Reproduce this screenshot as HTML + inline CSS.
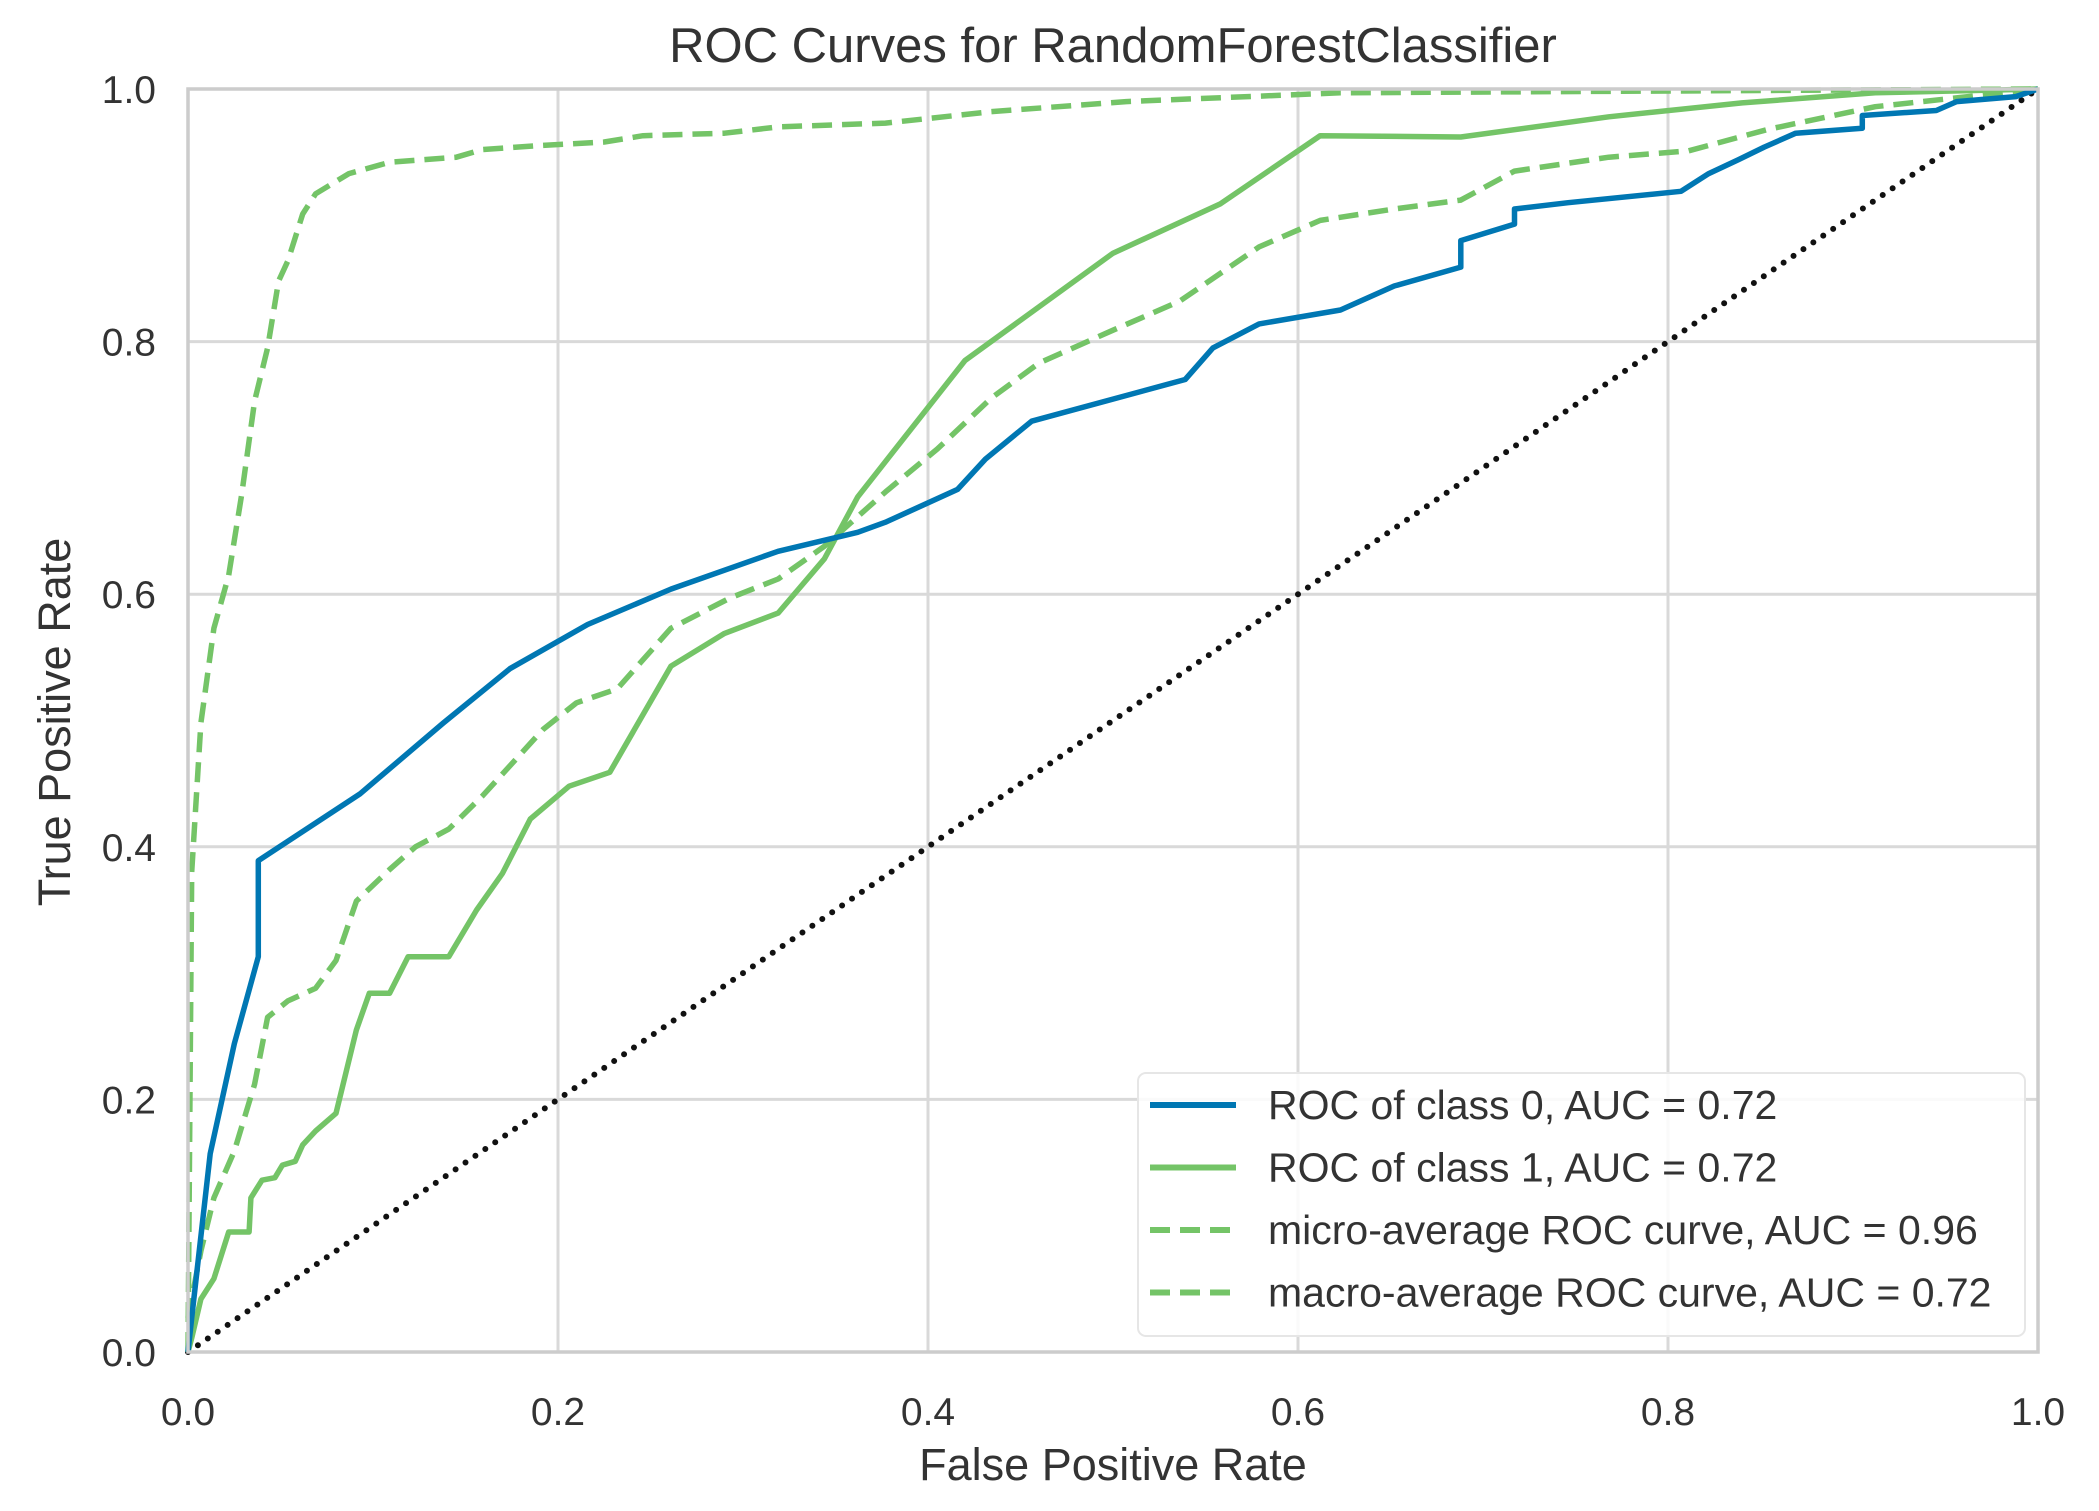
<!DOCTYPE html>
<html><head><meta charset="utf-8"><style>
html,body{margin:0;padding:0;background:#fff;}
svg{display:block;font-family:"Liberation Sans",sans-serif;}
</style></head><body>
<svg id="chart" width="2099" height="1511" viewBox="0 0 2099 1511">
<g id="grid"></g>
<g id="series"></g>
<rect x="188" y="89" width="1850" height="1263" fill="none" stroke="#cccccc" stroke-width="3.5"/>
<g id="ticks"></g>
<text x="1113" y="62" text-anchor="middle" font-size="49" fill="#333">ROC Curves for RandomForestClassifier</text>
<text x="1113" y="1480" text-anchor="middle" font-size="45" fill="#333">False Positive Rate</text>
<text x="0" y="0" transform="translate(70,722) rotate(-90)" text-anchor="middle" font-size="45" fill="#333">True Positive Rate</text>
<g id="legend">
<rect x="1138" y="1073" width="887" height="263" rx="8" fill="#fff" fill-opacity="0.85" stroke="#e6e6e6" stroke-width="2"/>
</g>
</svg>
<script>
const tickValues = [0, 0.2, 0.4, 0.6, 0.8, 1.0];
const tickLabels = ["0.0", "0.2", "0.4", "0.6", "0.8", "1.0"];
const class0X = [0,0.002,0.012,0.025,0.038,0.038,0.093,0.138,0.174,0.216,0.261,0.319,0.362,0.377,0.416,0.431,0.456,0.539,0.554,0.579,0.623,0.652,0.688,0.688,0.717,0.717,0.746,0.807,0.822,0.838,0.852,0.869,0.905,0.905,0.945,0.956,0.988,1];
const class0Y = [0,0.027,0.157,0.244,0.313,0.389,0.442,0.498,0.541,0.576,0.604,0.634,0.649,0.657,0.683,0.707,0.737,0.770,0.795,0.814,0.825,0.844,0.859,0.880,0.893,0.905,0.910,0.919,0.933,0.944,0.954,0.965,0.969,0.979,0.983,0.990,0.994,1];
const class1X = [0,0.002,0.007,0.014,0.022,0.033,0.034,0.040,0.047,0.051,0.058,0.062,0.069,0.080,0.091,0.098,0.109,0.119,0.141,0.156,0.170,0.185,0.206,0.228,0.261,0.290,0.319,0.344,0.362,0.420,0.500,0.558,0.612,0.688,0.768,0.840,0.912,1];
const class1Y = [0,0.011,0.042,0.058,0.095,0.095,0.122,0.136,0.138,0.148,0.151,0.164,0.175,0.189,0.255,0.284,0.284,0.313,0.313,0.350,0.379,0.422,0.448,0.459,0.543,0.569,0.585,0.628,0.677,0.785,0.870,0.909,0.963,0.962,0.978,0.989,0.997,1];
const microX = [0,0.002,0.007,0.014,0.022,0.029,0.036,0.043,0.049,0.054,0.062,0.069,0.087,0.109,0.145,0.159,0.188,0.225,0.246,0.290,0.319,0.377,0.434,0.507,0.623,1];
const microY = [0,0.38,0.498,0.573,0.615,0.679,0.753,0.795,0.848,0.864,0.901,0.917,0.933,0.942,0.946,0.952,0.955,0.958,0.963,0.965,0.970,0.973,0.982,0.990,0.997,1];
const macroX = [0,0.007,0.014,0.025,0.036,0.043,0.054,0.069,0.080,0.091,0.109,0.123,0.141,0.159,0.177,0.192,0.210,0.232,0.261,0.293,0.319,0.344,0.377,0.405,0.434,0.460,0.500,0.536,0.579,0.612,0.652,0.688,0.717,0.768,0.811,0.854,0.912,1];
const macroY = [0.027,0.08,0.122,0.159,0.212,0.265,0.278,0.288,0.31,0.357,0.382,0.400,0.414,0.44,0.469,0.493,0.514,0.525,0.573,0.597,0.612,0.638,0.681,0.715,0.755,0.783,0.809,0.832,0.875,0.896,0.905,0.912,0.935,0.946,0.951,0.968,0.986,1];
const legendLabels = ["ROC of class 0, AUC = 0.72","ROC of class 1, AUC = 0.72","micro-average ROC curve, AUC = 0.96","macro-average ROC curve, AUC = 0.72"];

const L=188,R=2038,T=89,B=1352;
function sx(v){return L+v*(R-L);}
function sy(v){return B-v*(B-T);}
const NS="http://www.w3.org/2000/svg";
function mk(tag,attrs,parent){const e=document.createElementNS(NS,tag);for(const k in attrs)e.setAttribute(k,attrs[k]);parent.appendChild(e);return e;}
const grid=document.getElementById('grid'),ticks=document.getElementById('ticks'),series=document.getElementById('series'),legend=document.getElementById('legend');
const GREEN='#74c467', BLUE='#0077b3';
tickValues.forEach((v,i)=>{
  let g1=mk('line',{x1:sx(v),x2:sx(v),y1:T,y2:B,stroke:'#d9d9d9','stroke-width':3},grid);
  
  
  let g2=mk('line',{x1:L,x2:R,y1:sy(v),y2:sy(v),stroke:'#d9d9d9','stroke-width':3},grid);
  
  
  let tx=mk('text',{x:sx(v),y:1425,'text-anchor':'middle','font-size':39,fill:'#333'},ticks);
  tx.textContent=tickLabels[i];
  
  
  let ty=mk('text',{x:156,y:sy(v)+14,'text-anchor':'end','font-size':39,fill:'#333'},ticks);
  ty.textContent=tickLabels[i];
  
  
});
function pts(xs,ys){return xs.map((x,i)=>sx(x).toFixed(1)+','+sy(ys[i]).toFixed(1)).join(' ');}
let diag=mk('line',{x1:sx(0),y1:sy(0),x2:sx(1),y2:sy(1),stroke:'#111','stroke-width':6,'stroke-dasharray':'0 12','stroke-linecap':'round'},series);


const specs=[
 {xs:macroX,ys:macroY,c:GREEN,d:'20 10',n:'macro-average-curve'},
 {xs:microX,ys:microY,c:GREEN,d:'20 10',n:'micro-average-curve'},
 {xs:class1X,ys:class1Y,c:GREEN,d:'',n:'class-1-curve'},
 {xs:class0X,ys:class0Y,c:BLUE,d:'',n:'class-0-curve'}];
specs.forEach(s=>{
  let p=mk('polyline',{points:pts(s.xs,s.ys),fill:'none',stroke:s.c,'stroke-width':5.5,'stroke-linejoin':'round'},series);
  if(s.d)p.setAttribute('stroke-dasharray',s.d);
  
  
});
const legStyles=[[BLUE,''],[GREEN,''],[GREEN,'20 10'],[GREEN,'20 10']];
legendLabels.forEach((lab,i)=>{
  const y=1105+i*62.5;
  let ln=mk('line',{x1:1150,x2:1236,y1:y,y2:y,stroke:legStyles[i][0],'stroke-width':6},legend);
  if(legStyles[i][1])ln.setAttribute('stroke-dasharray',legStyles[i][1]);
  
  
  let t=mk('text',{x:1268,y:y+14,'font-size':41,fill:'#333'},legend);
  t.textContent=lab;
  
  
});
</script>
</body></html>
